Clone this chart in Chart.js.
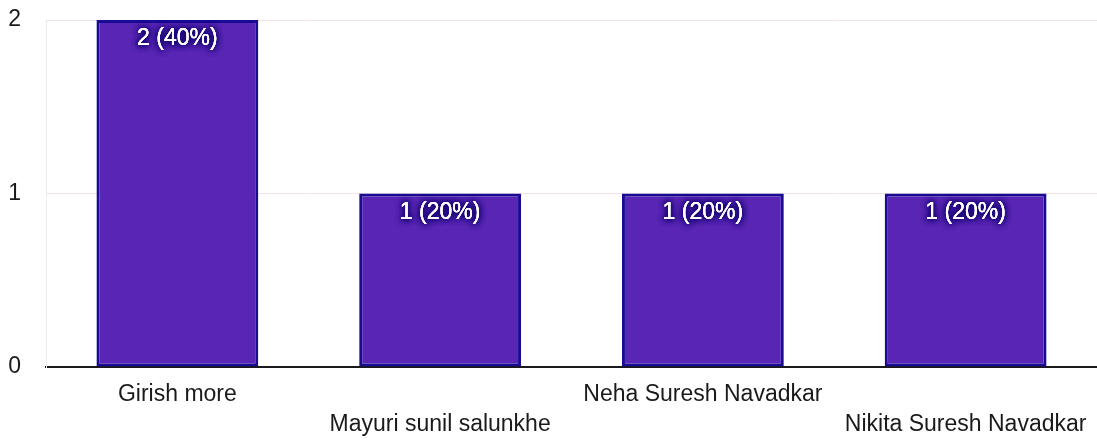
<!DOCTYPE html>
<html>
<head>
<meta charset="utf-8">
<script src="https://cdn.jsdelivr.net/npm/chart.js@4/dist/chart.umd.min.js"></script>
<style>
  html, body { margin: 0; padding: 0; background: #ffffff; }
  #wrap { width: 1097px; height: 442px; position: relative; }
</style>
</head>
<body>
<div id="wrap"><canvas id="c" width="1097" height="442"></canvas></div>
<script>
const categories = ['Girish more', 'Mayuri sunil salunkhe', 'Neha Suresh Navadkar', 'Nikita Suresh Navadkar'];
const counts = [2, 1, 1, 1];
const percents = [40, 20, 20, 20];
const yTicks = [0, 1, 2];

const FONT = "'Liberation Sans', Arial, sans-serif";

const barLabelPlugin = {
  id: 'barLabels',
  afterDatasetsDraw(chart) {
    const ctx = chart.ctx;
    const meta = chart.getDatasetMeta(0);
    ctx.save();
    ctx.font = '23px ' + FONT;
    ctx.textAlign = 'center';
    ctx.textBaseline = 'middle';
    meta.data.forEach((bar, i) => {
      const text = counts[i] + ' (' + percents[i] + '%)';
      const x = bar.x;
      const y = bar.y + 19;
      ctx.shadowColor = 'rgba(16,0,110,1)';
      ctx.shadowBlur = 6;
      ctx.fillStyle = '#ffffff';
      for (let k = 0; k < 4; k++) ctx.fillText(text, x, y);
      ctx.shadowBlur = 0;
      ctx.fillText(text, x, y);
    });
    ctx.restore();
  }
};

new Chart(document.getElementById('c'), {
  type: 'bar',
  data: {
    labels: categories.map((c, i) => i % 2 === 0 ? [c] : ['', c]),
    datasets: [{
      data: counts,
      backgroundColor: '#5925b4',
      borderColor: '#180b94',
      borderWidth: 3,
      borderSkipped: false,
      categoryPercentage: 1,
      barPercentage: 0.616
    }]
  },
  options: {
    responsive: false,
    animation: false,
    layout: { padding: { top: 20, left: 0, right: 0, bottom: 0 } },
    plugins: { legend: { display: false }, tooltip: { enabled: false } },
    scales: {
      x: {
        grid: { display: false, drawTicks: false },
        border: { display: true, color: '#1a1a1a', width: 2 },
        ticks: {
          color: '#1a1a1a',
          font: { family: FONT, size: 23, lineHeight: 1.3 },
          padding: 13,
          maxRotation: 0,
          autoSkip: false
        },
        afterFit(scale) {
          scale.height = 75;
          scale.paddingLeft = 0;
          scale.paddingRight = 0;
        }
      },
      y: {
        min: 0,
        max: 2,
        afterBuildTicks(scale) { scale.ticks = yTicks.map(v => ({ value: v })); },
        grid: { color: '#f5e2e4', lineWidth: 1, drawTicks: false },
        border: { display: true, color: '#ececec', width: 1 },
        ticks: {
          color: '#1a1a1a',
          font: { family: FONT, size: 23 },
          padding: 25
        },
        afterFit(scale) {
          scale.width = 46;
          scale.paddingTop = 0;
          scale.paddingBottom = 0;
        }
      }
    }
  },
  plugins: [barLabelPlugin]
});
</script>
</body>
</html>
